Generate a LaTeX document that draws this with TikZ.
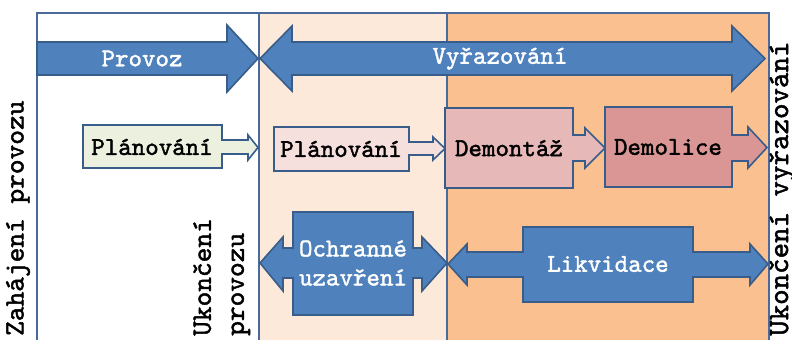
\documentclass[tikz,border=0pt]{standalone}
\usepackage{fontspec}
\newfontfamily\cour{lmmono10-regular.otf}[FakeBold=1.6, BoldFont=lmmono10-regular.otf, BoldFeatures={FakeBold=1.6}]
\definecolor{bluefill}{HTML}{4F81BD}
\definecolor{blueline}{HTML}{385D8A}
\definecolor{frameline}{HTML}{4A6A9A}
\definecolor{peachlight}{HTML}{FDE9D9}
\definecolor{peach}{HTML}{FAC090}
\definecolor{greenlight}{HTML}{EBF1DE}
\definecolor{pinklight}{HTML}{F5E0DE}
\definecolor{pinkmid}{HTML}{E6B9B8}
\definecolor{pinkdark}{HTML}{D99694}
\tikzset{
  shapeline/.style={draw=blueline, line width=1.6pt, line join=miter},
  bluearrow/.style={shapeline, fill=bluefill},
  lbl/.style={font=\cour\fontsize{25.7}{29}\selectfont, inner sep=0pt, align=center},
  wlbl/.style={lbl, text=white},
  vlbl/.style={font=\cour\fontsize{28}{33}\selectfont, inner sep=0pt, rotate=90, anchor=west, align=left},
  frame/.style={draw=frameline, line width=1.8pt}
}
\begin{document}
\begin{tikzpicture}[x=1pt,y=-1pt]
\useasboundingbox (0,0) rectangle (792,340);
% backgrounds
\fill[white] (37,13) rectangle (259,340);
\fill[peachlight] (259,13) rectangle (447,340);
\fill[peach] (447,13) rectangle (769,340);
\draw[frame] (37,340) -- (37,13) -- (769,13) -- (769,340);
\draw[frame] (259,13) -- (259,340);
\draw[frame] (447,13) -- (447,340);
% top arrows
\draw[bluearrow] (37,42) -- (227,42) -- (227,25) -- (258,58.5) -- (227,92) -- (227,75) -- (37,75) -- cycle;
\draw[bluearrow] (260,58.5) -- (292,26) -- (292,42) -- (732,42) -- (732,26) -- (765,58.5) -- (732,91) -- (732,75) -- (292,75) -- (292,91) -- cycle;
\node[wlbl] (provoz) at (142,58.5) {Provoz};
\node[wlbl] (vyraz) at (500,58.5) {Vyřazování};
% planovani 1
\draw[shapeline, fill=greenlight] (83,125) -- (222,125) -- (222,140) -- (248,140) -- (248,135) -- (258,147.5) -- (248,160) -- (248,154) -- (222,154) -- (222,168) -- (83,168) -- cycle;
\node[lbl] (plan1) at (152,147) {Plánování};
% planovani 2
\draw[shapeline, fill=pinklight] (274,127) -- (409,127) -- (409,142) -- (433,142) -- (433,137) -- (445,148.5) -- (433,160) -- (433,155) -- (409,155) -- (409,171) -- (274,171) -- cycle;
\node[lbl] (plan2) at (341,149) {Plánování};
% demontaz
\draw[shapeline, fill=pinkmid] (445,108) -- (573,108) -- (573,135) -- (585,135) -- (585,128) -- (605,148) -- (585,168) -- (585,161) -- (573,161) -- (573,188) -- (445,188) -- cycle;
\node[lbl] (demont) at (509,148) {Demontáž};
% demolice
\draw[shapeline, fill=pinkdark] (605,107) -- (732,107) -- (732,135) -- (748,135) -- (748,127) -- (767,147.5) -- (748,168) -- (748,161) -- (732,161) -- (732,187) -- (605,187) -- cycle;
\node[lbl] (demol) at (668,147) {Demolice};
% ochranne uzavreni
\draw[bluearrow] (293,212) -- (413,212) -- (413,248) -- (422,248) -- (422,237) -- (447,263) -- (422,291) -- (422,278) -- (413,278) -- (413,315) -- (293,315) -- (293,278) -- (283,278) -- (283,291) -- (260,263) -- (283,237) -- (283,248) -- (293,248) -- cycle;
\node[wlbl] (ochr) at (353,263) {Ochranné\\uzavření};
% likvidace
\draw[bluearrow] (523,227) -- (693,227) -- (693,252) -- (750,252) -- (750,244) -- (768,264) -- (750,285) -- (750,277) -- (693,277) -- (693,302) -- (523,302) -- (523,277) -- (467,277) -- (467,285) -- (448,264) -- (467,244) -- (467,252) -- (523,252) -- cycle;
\node[wlbl] (likv) at (608,264) {Likvidace};
% vertical labels
\node[vlbl] (zahaj) at (18,336) {Zahájení provozu};
\node[vlbl] (ukprov) at (221.5,336) {Ukončení\\provozu};
\node[vlbl, font=\cour\fontsize{29.5}{33}\selectfont] (ukvyr) at (782,336) {Ukončení vyřazování};
\end{tikzpicture}
\end{document}
